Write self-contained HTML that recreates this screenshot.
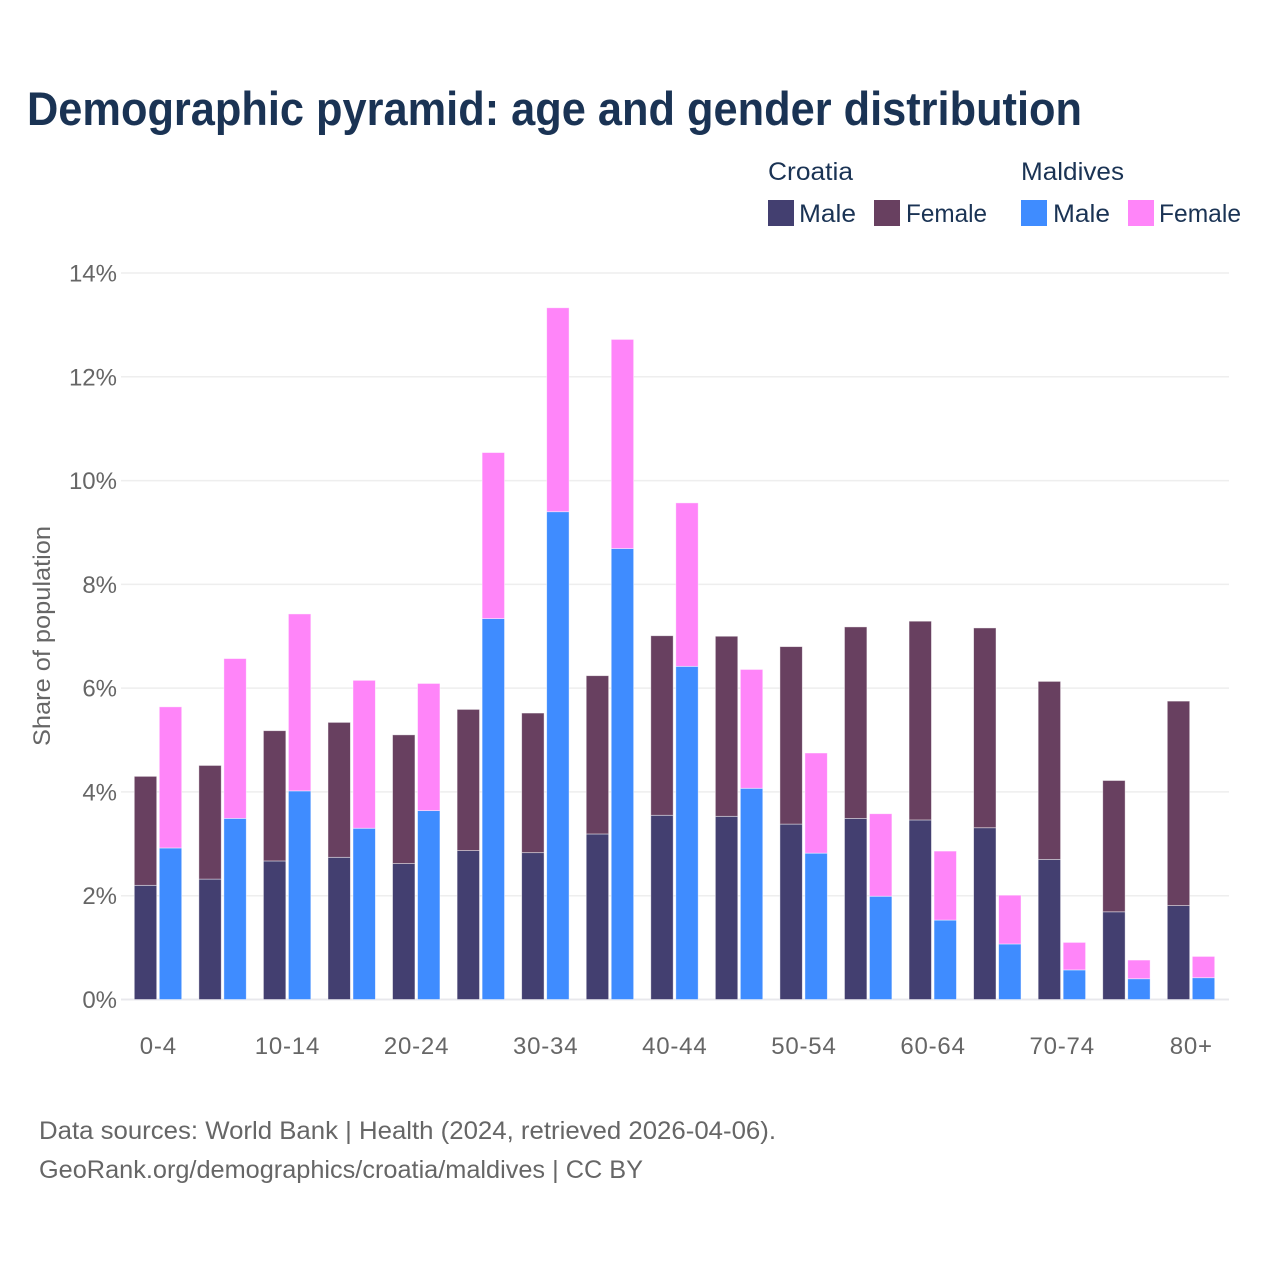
<!DOCTYPE html>
<html lang="en">
<head>
<meta charset="utf-8">
<title>Demographic pyramid</title>
<style>
html,body{margin:0;padding:0;background:#fff;width:1280px;height:1280px;overflow:hidden}
svg{display:block}
text{font-family:"Liberation Sans",sans-serif}
.t{fill:#1a3354;font-size:25px}
.g{fill:#666;font-size:24px}
</style>
</head>
<body>
<svg id="chart" width="1280" height="1280" viewBox="0 0 1280 1280" xmlns="http://www.w3.org/2000/svg">
  <text x="27" y="125" font-size="47" font-weight="700" fill="#1a3354" textLength="1055" lengthAdjust="spacingAndGlyphs">Demographic pyramid: age and gender distribution</text>

  <g>
    <text class="t" x="768" y="180" textLength="85" lengthAdjust="spacingAndGlyphs">Croatia</text>
    <text class="t" x="1021" y="180" textLength="103" lengthAdjust="spacingAndGlyphs">Maldives</text>
    <rect x="768" y="200" width="26" height="26" fill="#433f70"/>
    <text class="t" x="799" y="222" textLength="57" lengthAdjust="spacingAndGlyphs">Male</text>
    <rect x="874" y="200" width="26" height="26" fill="#684060"/>
    <text class="t" x="906" y="222" textLength="81" lengthAdjust="spacingAndGlyphs">Female</text>
    <rect x="1021" y="200" width="26" height="26" fill="#3f8cff"/>
    <text class="t" x="1053" y="222" textLength="57" lengthAdjust="spacingAndGlyphs">Male</text>
    <rect x="1128" y="200" width="26" height="26" fill="#ff85f9"/>
    <text class="t" x="1159" y="222" textLength="82" lengthAdjust="spacingAndGlyphs">Female</text>
  </g>

  <g id="grid"></g>
  <g id="bars"></g>
  <g id="yticks"></g>
  <g id="xticks"></g>

  <text class="g" transform="translate(50 746) rotate(-90)" x="0" y="0" textLength="220" lengthAdjust="spacingAndGlyphs">Share of population</text>

  <text class="g" x="39" y="1139" style="font-size:25px" textLength="737" lengthAdjust="spacingAndGlyphs">Data sources: World Bank | Health (2024, retrieved 2026-04-06).</text>
  <text class="g" x="39" y="1178" style="font-size:25px" textLength="604" lengthAdjust="spacingAndGlyphs">GeoRank.org/demographics/croatia/maldives | CC BY</text>
</svg>
<script>
const ageGroups = ["0-4","5-9","10-14","15-19","20-24","25-29","30-34","35-39","40-44","45-49","50-54","55-59","60-64","65-69","70-74","75-79","80+"];
const xTickLabels = ["0-4","10-14","20-24","30-34","40-44","50-54","60-64","70-74","80+"];
const yTickValues = [0,2,4,6,8,10,12,14];
const croatiaMale = [2.20,2.32,2.67,2.74,2.62,2.87,2.83,3.19,3.55,3.53,3.38,3.49,3.46,3.31,2.70,1.69,1.81];
const croatiaFemale = [2.10,2.19,2.51,2.60,2.48,2.72,2.69,3.05,3.46,3.47,3.42,3.69,3.83,3.85,3.43,2.53,3.94];
const maldivesMale = [2.92,3.49,4.02,3.30,3.64,7.34,9.40,8.69,6.42,4.07,2.82,1.99,1.53,1.07,0.57,0.40,0.42];
const maldivesFemale = [2.72,3.08,3.41,2.85,2.45,3.20,3.93,4.03,3.15,2.29,1.93,1.59,1.33,0.94,0.53,0.36,0.41];

const NS = "http://www.w3.org/2000/svg";
function yScale(v){ return 999.5 - v * (726.5 / 14); }
function xScale(i){ return 158.3 + i * ((1191.3 - 158.3) / (ageGroups.length - 1)); }
const barWidth = 22.4;

const gridLayer = document.getElementById("grid");
const barLayer = document.getElementById("bars");
const yLayer = document.getElementById("yticks");
const xLayer = document.getElementById("xticks");

yTickValues.forEach(function(v){
  const line = document.createElementNS(NS, "line");
  line.setAttribute("x1", 121);
  line.setAttribute("x2", 1229);
  line.setAttribute("y1", yScale(v));
  line.setAttribute("y2", yScale(v));
  line.setAttribute("stroke", v === 0 ? "#e8e8ec" : "#eeeeee");
  line.setAttribute("stroke-width", v === 0 ? 2 : 1.5);
  
  
  gridLayer.appendChild(line);

  const label = document.createElementNS(NS, "text");
  label.setAttribute("class", "g");
  label.setAttribute("x", 117);
  label.setAttribute("y", yScale(v) + 8.5);
  label.setAttribute("text-anchor", "end");
  label.textContent = v + "%";
  
  
  yLayer.appendChild(label);
});

xTickLabels.forEach(function(name){
  const i = ageGroups.indexOf(name);
  const label = document.createElementNS(NS, "text");
  label.setAttribute("class", "g");
  label.setAttribute("x", xScale(i));
  label.setAttribute("y", 1054);
  label.setAttribute("text-anchor", "middle");
  label.setAttribute("letter-spacing", "0.8");
  label.textContent = name;
  
  
  xLayer.appendChild(label);
});

function drawSegment(x, base, value, fill, name){
  const r = document.createElementNS(NS, "rect");
  const top = yScale(base + value);
  r.setAttribute("x", x);
  r.setAttribute("y", top);
  r.setAttribute("width", barWidth);
  r.setAttribute("height", yScale(base) - top);
  r.setAttribute("fill", fill);
  r.setAttribute("stroke", "rgba(255,255,255,0.55)");
  r.setAttribute("stroke-width", 0.8);
  
  
  barLayer.appendChild(r);
}

ageGroups.forEach(function(g, i){
  const cx = xScale(i);
  drawSegment(cx - 24, 0, croatiaMale[i], "#433f70", "bar-croatia-male");
  drawSegment(cx - 24, croatiaMale[i], croatiaFemale[i], "#684060", "bar-croatia-female");
  drawSegment(cx + 1, 0, maldivesMale[i], "#3f8cff", "bar-maldives-male");
  drawSegment(cx + 1, maldivesMale[i], maldivesFemale[i], "#ff85f9", "bar-maldives-female");
});
</script>
</body>
</html>
